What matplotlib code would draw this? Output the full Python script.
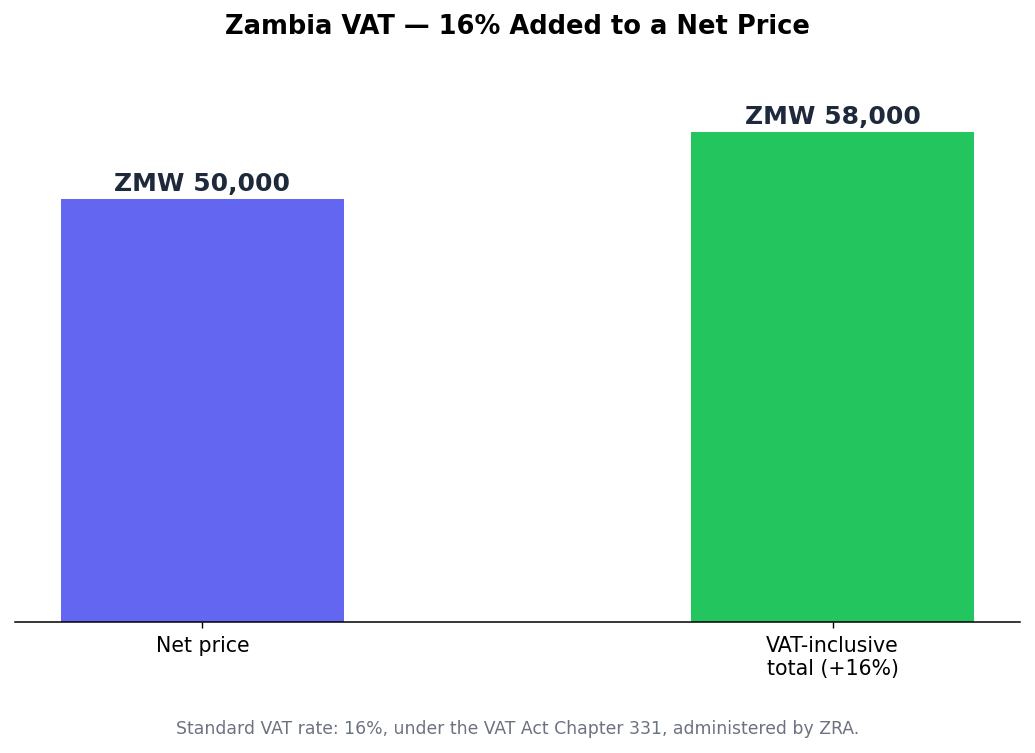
import matplotlib
matplotlib.use("Agg")
import matplotlib.pyplot as plt

categories = ["Net price", "VAT-inclusive\ntotal (+16%)"]
values = [50000, 58000]
value_labels = ["ZMW 50,000", "ZMW 58,000"]
colors = ["#6366F1", "#22C55E"]

fig = plt.figure(figsize=(10.35, 7.53), dpi=100)
ax = fig.add_axes([0.0145, 0.174, 0.971, 0.749])

x = list(range(len(categories)))
bars = ax.bar(x, values, width=0.45, color=colors)
ax.set_ylim(0, max(values) * 1.15)
ax.set_xticks(x)
ax.set_xticklabels(categories, fontsize=14.8)
ax.tick_params(axis="x", length=4, width=1.0, pad=6)
ax.set_yticks([])
for s in ["top", "right", "left"]:
    ax.spines[s].set_visible(False)
ax.spines["bottom"].set_linewidth(1.1)

for xi, v, lab in zip(x, values, value_labels):
    ax.annotate(lab, (xi, v), xytext=(0, 2), textcoords="offset points",
                ha="center", va="bottom", fontsize=18, fontweight="bold",
                color="#1E293B")

fig.text(0.5, 0.964, "Zambia VAT — 16% Added to a Net Price", ha="center",
         va="center", fontsize=18.5, fontweight="bold")
fig.text(0.5, 0.032, "Standard VAT rate: 16%, under the VAT Act Chapter 331, administered by ZRA.",
         ha="center", va="center", fontsize=12.4, color="#6B7280")

fig.savefig("out.png", dpi=100)
